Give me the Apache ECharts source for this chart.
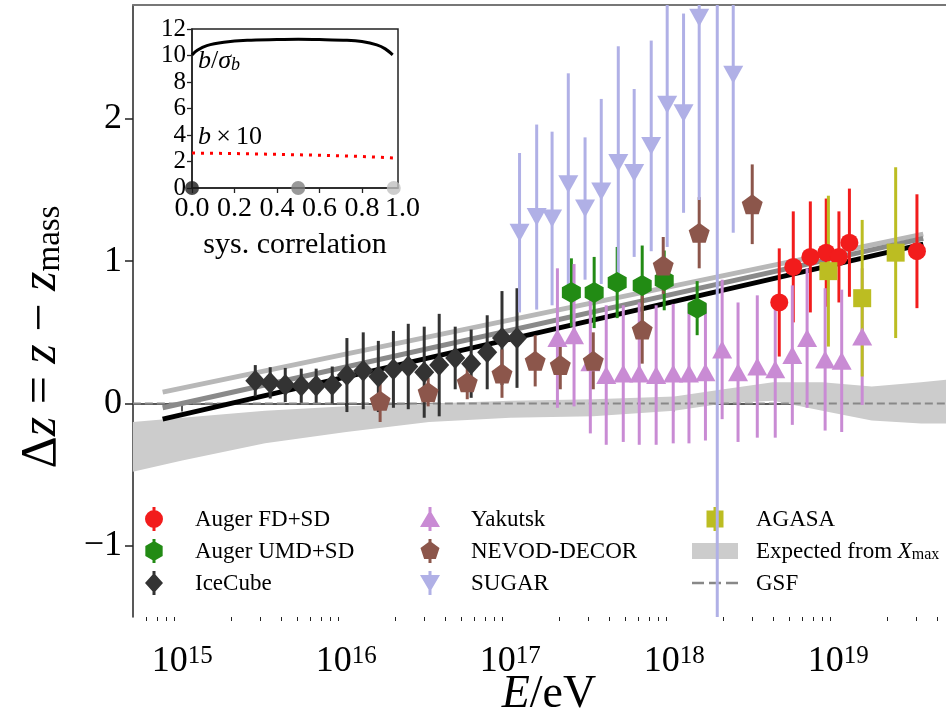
<!DOCTYPE html>
<html><head><meta charset="utf-8">
<script src="https://cdn.jsdelivr.net/npm/echarts@6/dist/echarts.min.js"></script>
<style>html,body{margin:0;padding:0;background:#fff}#c{width:946px;height:719px}</style>
</head><body><div id="c"></div>
<script>
// ---------------- data (energies in eV, dz values, symmetric errors) ----------------
const augerFdE   = [4.37e18, 5.32e18, 6.76e18, 8.45e18, 1.01e19, 1.17e19, 3.02e19];
const augerFdZ   = [0.71, 0.96, 1.03, 1.06, 1.03, 1.13, 1.07];
const augerFdErr = [0.38, 0.39, 0.39, 0.38, 0.32, 0.38, 0.40];

const umdE   = [2.36e17, 3.25e17, 4.49e17, 6.38e17, 8.69e17, 1.38e18];
const umdZ   = [0.78, 0.78, 0.85, 0.83, 0.865, 0.67];
const umdErr = [0.24, 0.25, 0.25, 0.28, 0.21, 0.19];

const iceE   = [2.79e15, 3.44e15, 4.25e15, 5.32e15, 6.56e15, 8.22e15, 1.01e16, 1.27e16, 1.57e16,
                1.94e16, 2.39e16, 2.99e16, 3.69e16, 4.62e16, 5.78e16, 7.24e16, 8.91e16, 1.10e17];
const iceZ   = [0.16, 0.145, 0.13, 0.125, 0.125, 0.13, 0.20, 0.23, 0.19,
                0.24, 0.26, 0.22, 0.27, 0.32, 0.28, 0.36, 0.46, 0.46];
const iceErr = [0.11, 0.11, 0.12, 0.12, 0.12, 0.13, 0.26, 0.27, 0.25,
                0.27, 0.30, 0.32, 0.36, 0.22, 0.24, 0.26, 0.33, 0.35];

const yakE   = [1.94e17, 2.45e17, 3.08e17, 3.85e17, 4.89e17, 6.12e17, 7.76e17, 9.86e17, 1.23e18, 1.55e18,
                1.96e18, 2.45e18, 3.21e18, 4.13e18, 5.25e18, 6.46e18, 8.32e18, 1.05e19, 1.40e19];
const yakZ   = [0.46, 0.48, 0.29, 0.20, 0.21, 0.21, 0.20, 0.21, 0.21, 0.22,
                0.38, 0.22, 0.26, 0.24, 0.34, 0.46, 0.31, 0.30, 0.47];
const yakErr = [0.49, 0.50, 0.50, 0.49, 0.48, 0.50, 0.49, 0.49, 0.49, 0.48,
                0.49, 0.49, 0.50, 0.48, 0.49, 0.49, 0.50, 0.50, 0.48];

const nevE   = [1.61e16, 3.16e16, 5.47e16, 8.91e16, 1.42e17, 2.02e17, 3.21e17, 6.38e17, 8.57e17, 1.42e18, 2.99e18];
const nevZ   = [0.02, 0.08, 0.15, 0.21, 0.30, 0.27, 0.30, 0.52, 0.97, 1.20, 1.40];
const nevErr = [0.15, 0.10, 0.12, 0.17, 0.18, 0.17, 0.20, 0.24, 0.20, 0.25, 0.28];

const sugE   = [1.14e17, 1.45e17, 1.80e17, 2.26e17, 2.86e17, 3.59e17, 4.56e17, 5.70e17, 7.24e17, 9.06e17,
                1.14e18, 1.42e18, 1.83e18, 2.29e18];
const sugZ   = [1.20, 1.31, 1.30, 1.54, 1.37, 1.49, 1.69, 1.62, 1.81, 2.10, 2.04, 2.71, 3.10, 2.31];
const sugErr = [0.56, 0.65, 0.61, 0.78, 0.50, 0.65, 0.82, 0.59, 0.74, 1.00, 0.70, 1.28, 4.80, 1.11];

const agaE   = [8.71e18, 1.40e19, 2.24e19];
const agaZ   = [0.93, 0.74, 1.06];
const agaErr = [0.53, 0.55, 0.60];

// expected from Xmax band
const bandE     = [5.0e14, 1e15, 3.2e15, 1e16, 3.2e16, 1e17, 3.2e17, 1e18, 2e18, 4e18, 8e18, 1.6e19, 3.2e19, 6.0e19];
const bandUpper = [-0.13, -0.10, -0.05, -0.02, 0.00, 0.02, 0.03, 0.05, 0.10, 0.15, 0.15, 0.12, 0.15, 0.18];
const bandLower = [-0.48, -0.40, -0.28, -0.20, -0.13, -0.10, -0.09, -0.05, 0.00, 0.02, -0.05, -0.12, -0.14, -0.14];

// GSF reference
const gsfE = [5.0e14, 6.0e19];
const gsfZ = [0, 0];

// linear fits for three systematic correlations
const fitE      = [7.6e14, 3.3e19];
const fitCorr0  = [-0.11, 1.12];
const fitCorr05 = [-0.03, 1.16];
const fitCorr95 = [0.08, 1.19];

// inset
const insetCorr  = [0, 0.025, 0.07, 0.15, 0.26, 0.4, 0.5, 0.6, 0.73, 0.8, 0.87, 0.91, 0.945];
const insetBSig  = [10.05, 10.4, 10.75, 11.0, 11.15, 11.2, 11.22, 11.2, 11.15, 11.05, 10.8, 10.5, 10.05];
const insetCorrB = [0, 0.2, 0.4, 0.6, 0.8, 0.95];
const insetB10   = [2.64, 2.60, 2.54, 2.47, 2.38, 2.27];
const insetDotsX = [0, 0.5, 0.95];
const insetDotsY = [0, 0, 0];

// axis ticks
const xMajor = [15, 16, 17, 18, 19];
const yMajor = [-1, 0, 1, 2];
const insetXTicks = [0, 0.2, 0.4, 0.6, 0.8];
const insetYTicks = [0, 2, 4, 6, 8, 10, 12];
// ------------------------------------------------------------------------------------

const SERIF = '"Liberation Serif","DejaVu Serif",serif';
const X_MIN = 14.70, X_MAX = 19.773, Y_MIN = -1.5, Y_MAX = 2.8;

const xMinor = [];
for (let d = 14; d <= 19; d++) for (let k = 2; k <= 9; k++) {
  const v = d + Math.log10(k); if (v > X_MIN && v < X_MAX) xMinor.push(v);
}

function triples(E, Z, Err) { return E.map((e, i) => [Math.log10(e), Z[i], Err[i]]); }
function pairs(E, Z) { return E.map((e, i) => [Math.log10(e), Z[i]]); }

function errSeries(name, E, Z, Err, color) {
  return {
    type: 'custom', name, data: triples(E, Z, Err), xAxisIndex: 0, yAxisIndex: 0, z: 4,
    itemStyle: { color }, animation: false, silent: true,
    encode: { x: 0, y: 1 },
    renderItem: (params, api) => {
      const x = api.value(0), y = api.value(1), e = api.value(2);
      const lo = Math.max(y - e, Y_MIN), hi = Math.min(y + e, Y_MAX);
      if (lo >= hi) return;
      const p1 = api.coord([x, lo]), p2 = api.coord([x, hi]);
      return { type: 'line', shape: { x1: p1[0], y1: p1[1], x2: p2[0], y2: p2[1] },
               style: { stroke: color, lineWidth: 3 } };
    }
  };
}
function markSeries(name, E, Z, color, symbol, size, rotate) {
  return {
    type: 'scatter', name, data: pairs(E, Z), xAxisIndex: 0, yAxisIndex: 0, z: 4,
    symbol, symbolSize: size, symbolRotate: rotate || 0, symbolKeepAspect: false,
    itemStyle: { color, opacity: 1 }, animation: false, silent: true, clip: true
  };
}

const P_PENT = 'path://M0,-10 L9.51,-3.09 L5.88,8.09 L-5.88,8.09 L-9.51,-3.09 Z';
const P_HEX  = 'path://M0,-10 L8.66,-5 L8.66,5 L0,10 L-8.66,5 L-8.66,-5 Z';

// legend icons: marker + vertical error bar (all drawn clockwise)
const BAR = 'M-1.5,-12 L1.5,-12 L1.5,12 L-1.5,12 Z ';
const I_CIRC = 'path://' + BAR + 'M-9,0 A9,9 0 1,1 9,0 A9,9 0 1,1 -9,0 Z';
const I_HEX  = 'path://' + BAR + 'M0,-10 L8.66,-5 L8.66,5 L0,10 L-8.66,5 L-8.66,-5 Z';
const I_DIA  = 'path://' + BAR + 'M0,-10 L9,0 L0,10 L-9,0 Z';
const I_TRI  = 'path://' + BAR + 'M0,-9 L10,8 L-10,8 Z';
const I_PENT = 'path://' + BAR + 'M0,-10 L9.51,-3.09 L5.88,8.09 L-5.88,8.09 L-9.51,-3.09 Z';
const I_TRID = 'path://' + BAR + 'M-10,-8 L10,-8 L0,9 Z';
const I_SQ   = 'path://' + BAR + 'M-8.5,-8.5 L8.5,-8.5 L8.5,8.5 L-8.5,8.5 Z';
const I_RECT = 'path://M0,0 L46,0 L46,16 L0,16 Z';
const I_DASH = 'path://M0,0 L12,0 L12,2.5 L0,2.5 Z M17,0 L29,0 L29,2.5 L17,2.5 Z M34,0 L46,0 L46,2.5 L34,2.5 Z';

const C = {
  fd: '#f21c1c', umd: '#228b14', ice: '#333333', yak: '#c98bd4',
  nev: '#8c564b', sug: '#b0b0e6', aga: '#bcbd22', band: '#cccccc', gsf: '#888888'
};

const LF = 23;
const legendText = {
  fontFamily: SERIF, fontSize: LF, color: '#000', lineHeight: 24,
  rich: { sp: { width: 13, fontSize: LF, lineHeight: 24, verticalAlign: 'bottom' },
          n: { fontFamily: SERIF, fontSize: LF, lineHeight: 24, verticalAlign: 'bottom', color: '#000' },
          i: { fontFamily: SERIF, fontStyle: 'italic', fontSize: LF, lineHeight: 24, verticalAlign: 'bottom', color: '#000' },
          s: { fontFamily: SERIF, fontSize: 16, lineHeight: 13, verticalAlign: 'bottom', color: '#000' } }
};
function legendCol(items, left) {
  return {
    orient: 'vertical', left, top: 507, padding: 0, itemWidth: 46, itemHeight: 24, itemGap: 8,
    selectedMode: false, symbolKeepAspect: true, textStyle: legendText, data: items,
    formatter: n => n === 'Expected from Xmax' ? '{sp| }{n|Expected from }{i|X}{s|max}' : '{sp| }{n|' + n + '}'
  };
}

const option = {
  backgroundColor: '#fff',
  animation: false,
  grid: [
    { left: 133, top: 5, width: 832, height: 612, outerBoundsMode: 'none', containLabel: false },
    { left: 192, top: 29, width: 206, height: 159, outerBoundsMode: 'none', containLabel: false,
      show: true, borderColor: '#222', borderWidth: 1.5, backgroundColor: '#fff' }
  ],
  xAxis: [
    { type: 'value', gridIndex: 0, min: X_MIN, max: X_MAX, position: 'bottom',
      axisLine: { lineStyle: { color: '#222', width: 1.5 } },
      axisTick: { show: true, inside: false, length: 8, customValues: xMajor, lineStyle: { color: '#222', width: 1.5 } },
      axisLabel: { customValues: xMajor, margin: 27, formatter: v => '{b|10}{s|' + Math.round(v) + '}',
        rich: { b: { fontFamily: SERIF, fontSize: 36, color: '#000', lineHeight: 42, verticalAlign: 'top' },
                s: { fontFamily: SERIF, fontSize: 25, color: '#000', lineHeight: 24, verticalAlign: 'top' } } },
      splitLine: { show: false },
      name: '{i|E}{n|/eV}', nameLocation: 'middle', nameGap: 55, nameMoveOverlap: false,
      nameTextStyle: { fontFamily: SERIF, fontSize: 46, color: '#000',
        rich: { i: { fontFamily: SERIF, fontStyle: 'italic', fontSize: 46, color: '#000' },
                n: { fontFamily: SERIF, fontSize: 46, color: '#000' } } } },
    { type: 'value', gridIndex: 0, min: X_MIN, max: X_MAX, position: 'bottom',
      axisLine: { show: false },
      axisTick: { show: true, length: 4, customValues: xMinor, lineStyle: { color: '#222', width: 1 } },
      axisLabel: { show: false }, splitLine: { show: false } },
    { type: 'value', gridIndex: 0, min: X_MIN, max: X_MAX, position: 'top',
      axisLine: { lineStyle: { color: '#777', width: 2 } }, axisTick: { show: false },
      axisLabel: { show: false }, splitLine: { show: false } },
    { type: 'value', gridIndex: 1, min: 0, max: 0.97,
      axisLine: { lineStyle: { color: '#222', width: 1.5 } },
      axisTick: { length: 5, customValues: insetXTicks, lineStyle: { color: '#222', width: 1.3 } },
      axisLabel: { customValues: insetXTicks, margin: 7, formatter: v => v.toFixed(1),
        fontFamily: SERIF, fontSize: 28, color: '#000' },
      splitLine: { show: false },
      name: 'sys. correlation', nameLocation: 'middle', nameGap: 42, nameMoveOverlap: false,
      nameTextStyle: { fontFamily: SERIF, fontSize: 30, color: '#000' } }
  ],
  yAxis: [
    { type: 'value', gridIndex: 0, min: Y_MIN, max: Y_MAX,
      axisLine: { lineStyle: { color: '#222', width: 1.5 } },
      axisTick: { length: 8, customValues: yMajor, lineStyle: { color: '#222', width: 1.5 } },
      axisLabel: { customValues: yMajor, margin: 11, formatter: v => v < 0 ? '\u2212' + Math.abs(v) : String(v),
        fontFamily: SERIF, fontSize: 36, color: '#000' },
      splitLine: { show: false },
      name: '{n|\u0394}{i|z}{n| = }{i|z}{n| \u2212 }{i|z}{s|mass}', nameLocation: 'middle', nameRotate: 90, nameGap: 66,
      nameMoveOverlap: false,
      nameTextStyle: { fontFamily: SERIF, fontSize: 50, color: '#000', padding: [0, 52, 0, 0],
        rich: { n: { fontFamily: SERIF, fontSize: 50, lineHeight: 50, verticalAlign: 'bottom', color: '#000' },
                i: { fontFamily: SERIF, fontStyle: 'italic', fontSize: 50, lineHeight: 50, verticalAlign: 'bottom', color: '#000' },
                s: { fontFamily: SERIF, fontSize: 33, lineHeight: 26, verticalAlign: 'bottom', color: '#000' } } } },
    { type: 'value', gridIndex: 1, min: 0, max: 12, interval: 2,
      axisLine: { lineStyle: { color: '#222', width: 1.5 } },
      axisTick: { length: 5, customValues: insetYTicks, lineStyle: { color: '#222', width: 1.3 } },
      axisLabel: { margin: 6, customValues: insetYTicks, hideOverlap: false,
        fontFamily: SERIF, fontSize: 25, lineHeight: 24, color: '#000' },
      splitLine: { show: false } }
  ],
  legend: [
    legendCol([{ name: 'Auger FD+SD', icon: I_CIRC }, { name: 'Auger UMD+SD', icon: I_HEX }, { name: 'IceCube', icon: I_DIA }], 145),
    legendCol([{ name: 'Yakutsk', icon: I_TRI }, { name: 'NEVOD-DECOR', icon: I_PENT }, { name: 'SUGAR', icon: I_TRID }], 420),
    legendCol([{ name: 'AGASA', icon: I_SQ }, { name: 'Expected from Xmax', icon: I_RECT }, { name: 'GSF', icon: I_DASH }], 692)
  ],
  graphic: [
    { type: 'text', left: 198, top: 48, z: 100,
      style: { text: '{i|b}{n|/}{i|\u03c3}{s|b}', fill: '#000', font: '26px ' + SERIF,
        rich: { i: { fontFamily: SERIF, fontStyle: 'italic', fontSize: 26, lineHeight: 28, verticalAlign: 'bottom' },
                n: { fontFamily: SERIF, fontSize: 26, lineHeight: 28, verticalAlign: 'bottom' },
                s: { fontFamily: SERIF, fontStyle: 'italic', fontSize: 18, lineHeight: 14, verticalAlign: 'bottom' } } } },
    { type: 'text', left: 198, top: 124, z: 100,
      style: { text: '{i|b}{n|\u2009\u00d7\u200910}', fill: '#000', font: '26px ' + SERIF,
        rich: { i: { fontFamily: SERIF, fontStyle: 'italic', fontSize: 26 }, n: { fontFamily: SERIF, fontSize: 26 } } } },
    { type: 'text', left: 385, top: 195, z: 100,
      style: { text: '1.0', fill: '#000', font: '28px ' + SERIF } }
  ],
  series: [
    { type: 'custom', name: 'Expected from Xmax', xAxisIndex: 0, yAxisIndex: 0, z: 1,
      data: bandE.map((e, i) => [Math.log10(e), bandUpper[i], bandLower[i]]),
      encode: { x: 0, y: 1 }, itemStyle: { color: C.band }, animation: false, silent: true,
      renderItem: (params, api) => {
        if (params.dataIndex !== 0) return;
        const up = bandE.map((e, i) => api.coord([Math.log10(e), bandUpper[i]]));
        const low = bandE.map((e, i) => api.coord([Math.log10(e), bandLower[i]])).reverse();
        return { type: 'polygon', shape: { points: up.concat(low) }, style: { fill: C.band } };
      } },
    { type: 'custom', name: 'GSF', xAxisIndex: 0, yAxisIndex: 0, z: 2, data: pairs(gsfE, gsfZ),
      encode: { x: 0, y: 1 }, itemStyle: { color: C.gsf }, animation: false, silent: true,
      renderItem: (params, api) => {
        if (params.dataIndex !== 0) return;
        const pts = gsfE.map((e, i) => api.coord([Math.log10(e), gsfZ[i]]));
        return { type: 'polyline', shape: { points: pts },
                 style: { stroke: C.gsf, lineWidth: 2.2, lineDash: [8, 4], fill: null } };
      } },
    { type: 'line', name: 'fit095', xAxisIndex: 0, yAxisIndex: 0, z: 3, data: pairs(fitE, fitCorr95), symbol: 'none',
      lineStyle: { color: '#b8b8b8', width: 5 }, animation: false, silent: true },
    { type: 'line', name: 'fit05', xAxisIndex: 0, yAxisIndex: 0, z: 3, data: pairs(fitE, fitCorr05), symbol: 'none',
      lineStyle: { color: '#8a8a8a', width: 5 }, animation: false, silent: true },
    { type: 'line', name: 'fit0', xAxisIndex: 0, yAxisIndex: 0, z: 3, data: pairs(fitE, fitCorr0), symbol: 'none',
      lineStyle: { color: '#000000', width: 5 }, animation: false, silent: true },

    errSeries('Auger FD+SD', augerFdE, augerFdZ, augerFdErr, C.fd),
    markSeries('Auger FD+SD', augerFdE, augerFdZ, C.fd, 'circle', 18),
    errSeries('Auger UMD+SD', umdE, umdZ, umdErr, C.umd),
    markSeries('Auger UMD+SD', umdE, umdZ, C.umd, P_HEX, [19, 21]),
    errSeries('IceCube', iceE, iceZ, iceErr, C.ice),
    markSeries('IceCube', iceE, iceZ, C.ice, 'diamond', [20, 22]),
    errSeries('Yakutsk', yakE, yakZ, yakErr, C.yak),
    markSeries('Yakutsk', yakE, yakZ, C.yak, 'triangle', [20, 18]),
    errSeries('NEVOD-DECOR', nevE, nevZ, nevErr, C.nev),
    markSeries('NEVOD-DECOR', nevE, nevZ, C.nev, P_PENT, [21, 20]),
    errSeries('SUGAR', sugE, sugZ, sugErr, C.sug),
    markSeries('SUGAR', sugE, sugZ, C.sug, 'triangle', [20, 18], 180),
    errSeries('AGASA', agaE, agaZ, agaErr, C.aga),
    markSeries('AGASA', agaE, agaZ, C.aga, 'rect', 18),

    // inset
    { type: 'line', xAxisIndex: 3, yAxisIndex: 1, z: 20, data: insetCorr.map((c, i) => [c, insetBSig[i]]),
      symbol: 'none', smooth: 0.3, lineStyle: { color: '#000', width: 3 }, animation: false, silent: true },
    { type: 'line', xAxisIndex: 3, yAxisIndex: 1, z: 20, data: insetCorrB.map((c, i) => [c, insetB10[i]]),
      symbol: 'none', lineStyle: { color: '#ff0000', width: 3, type: [3, 6] }, animation: false, silent: true },
    { type: 'scatter', xAxisIndex: 3, yAxisIndex: 1, z: 21, clip: false,
      data: insetDotsX.map((c, i) => ({ value: [c, insetDotsY[i]],
        itemStyle: { color: ['#1a1a1a', '#808080', '#c0c0c0'][i] } })),
      symbolSize: 14, animation: false, silent: true }
  ]
};

const chart = echarts.init(document.getElementById('c'), null, { renderer: 'canvas' });
chart.setOption(option);
</script></body></html>
